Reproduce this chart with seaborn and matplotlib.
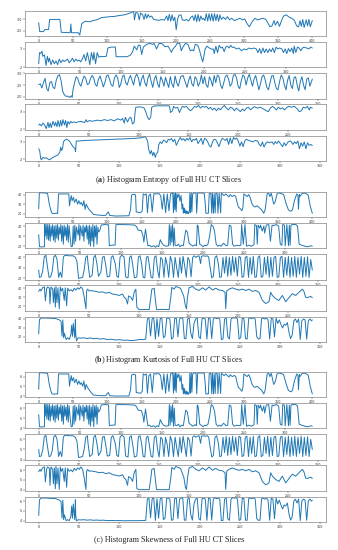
import matplotlib
matplotlib.use("Agg")
import matplotlib.pyplot as plt
import seaborn as sns

sns.set_style("ticks")
plt.rcParams['font.family'] = ['DejaVu Sans']
plt.rcParams['mathtext.fontset'] = 'custom'
plt.rcParams['mathtext.rm'] = 'Liberation Serif'
plt.rcParams['mathtext.bf'] = 'Liberation Serif:bold'

# ---------------- tick labels ----------------
xticks_p1 = [0, 50, 100, 150, 200, 250, 300, 350, 400]
xticks_p2 = [0, 50, 100, 150, 200, 250, 300]
xticks_p3 = [0, 50, 100, 150, 200, 250, 300, 350]
xticks_p4 = [0, 50, 100, 150, 200, 250]
xticks_p5 = [0, 50, 100, 150, 200, 250, 300, 350]
yticks_entropy = [[2.5, 3.0], [2, 3], [2.0, 2.5, 3.0], [2, 3], [2, 3]]
yticks_kurtosis = [20, 30, 40]
yticks_skewness = [4, 5, 6]

captions = [r"($\mathbf{a}$) Histogram Entropy of Full HU CT Slices",
            r"($\mathbf{b}$) Histogram Kurtosis of Full HU CT Slices",
            r"(c) Histogram Skewness of Full HU CT Slices"]

# ---------------- (a) entropy: (slice index, value) ----------------
a1 = [(0,2.86),(1.5,2.47),(7,2.47),(9,2.56),(14.5,2.56),(16,3.0),(31,3.0),(33,2.44),(46,2.42),(47,2.8),(48,2.42),(58,2.42),(60,2.32),(63,2.82),(68,2.92),(74,2.9),(80,2.95),(86,3.0),(92,3.08),(98,3.1),(104,3.12),(110,3.13),(116,3.16),(125,3.2),(133,3.27),(137,3.33),(139,3.32),(140,2.98),(142,3.3),(145,3.28),(147,2.98),(149,3.28),(152,3.2),(154,3.0),(156,3.25),(158,3.05),(160,3.22),(162,3.1),(165,3.15),(168,3.0),(172,2.98),(176,2.96),(180,3.0),(184,2.97),(187,3.15),(189,2.95),(191,3.22),(193,2.92),(195,3.2),(197,2.95),(199,3.1),(201,2.55),(203,3.0),(205,3.18),(208,3.2),(210,2.98),(213,2.95),(216,3.0),(219,2.93),(222,3.08),(225,3.15),(227,2.95),(229,3.2),(231,2.9),(233,3.22),(235,2.92),(237,3.15),(239,3.0),(241,3.05),(243,2.95),(245,3.25),(247,2.93),(249,3.25),(251,2.95),(253,3.25),(255,2.92),(257,3.25),(259,2.95),(261,3.22),(263,2.92),(265,3.2),(267,3.0),(270,3.1),(273,3.0),(276,3.12),(279,2.98),(282,3.05),(286,2.95),(290,3.0),(294,3.05),(298,2.98),(301,3.02),(305,2.8),(308,2.68),(312,2.9),(316,3.05),(320,2.98),(324,3.02),(328,3.05),(332,3.0),(335,2.85),(338,2.68),(341,2.72),(344,2.95),(346,2.75),(349,2.92),(352,2.7),(355,2.95),(358,3.15),(362,3.2),(366,3.1),(370,3.05),(374,2.95),(377,2.72),(380,2.68),(382,2.95),(384,2.7),(386,3.0),(388,2.65),(391,2.98),(393,2.72),(395,3.0),(397,2.68),(400,2.95)]

a2 = [(0,2.2),(1,2.8),(2.5,2.75),(4,2.88),(5,2.6),(7,2.68),(9,2.1),(10.5,2.6),(12,2.3),(13,2.5),(15,2.15),(17,2.4),(19,2.2),(21,2.35),(23,2.15),(25,2.45),(27,2.25),(29,2.4),(31,2.32),(33,2.38),(35,2.45),(37,2.25),(39,2.35),(41,2.5),(43,2.3),(45,2.45),(47,2.35),(49,2.4),(51,2.3),(53,2.45),(55,2.7),(57,2.35),(59,2.8),(61,2.4),(62,2.15),(64,2.8),(66,2.4),(67,2.82),(69,2.2),(71,2.8),(73,2.55),(75,2.6),(78,2.58),(82,2.6),(84,3.05),(88,3.1),(93,3.1),(94,2.58),(97,2.58),(107,2.58),(111,2.65),(114,2.85),(116,3.15),(119,2.95),(121,3.2),(123,3.2),(125,2.7),(127,3.1),(131,3.25),(135,3.3),(138,3.25),(140,3.3),(143,3.0),(146,3.3),(150,3.28),(153,3.12),(157,3.15),(159,3.0),(161,2.82),(163,3.0),(166,3.15),(168,3.3),(171,3.32),(173,2.9),(175,3.1),(178,3.3),(181,3.25),(184,2.9),(186,2.95),(188,2.9),(190,3.25),(193,3.2),(195,2.95),(197,2.6),(199,2.3),(200,2.5),(202,3.0),(204,3.15),(207,3.05),(210,2.98),(212,3.0),(213,2.75),(215,3.15),(217,2.8),(219,3.2),(221,3.05),(223,3.1),(225,2.85),(227,3.1),(229,3.15),(231,3.05),(233,3.2),(235,3.08),(237,3.1),(240,3.0),(243,3.05),(246,2.9),(249,3.0),(252,2.95),(255,3.05),(258,3.0),(261,3.05),(264,3.0),(266,2.8),(268,3.02),(270,2.75),(272,3.05),(274,2.8),(276,3.0),(278,2.8),(280,3.0),(282,2.85),(284,3.05),(286,2.8),(288,3.1),(290,3.0),(292,3.05),(295,3.0),(297,2.8),(299,3.0),(301,2.75),(303,3.02),(305,2.85),(307,3.05),(309,2.75),(310,3.15),(312,2.8),(314,3.1),(316,3.05),(318,2.9),(320,3.05),(322,3.1),(325,3.05),(328,3.0),(330,3.1),(332,3.05)]

a3 = [(0,2.52),(2,2.55),(4,2.38),(6,2.6),(8,2.78),(10,2.35),(12,2.25),(14,2.6),(16,2.65),(18,2.4),(20,2.35),(22,2.7),(24,2.88),(26,2.93),(28,2.7),(30,2.25),(32,2.1),(34,2.03),(37,2.03),(39,1.98),(41,2.05),(42,1.98),(43,2.3),(45,2.6),(47,2.85),(49,2.78),(51,2.55),(53,2.45),(55,2.7),(57,2.88),(59,2.78),(61,2.52),(63,2.55),(65,2.78),(67,2.9),(69,2.8),(71,2.52),(73,2.45),(75,2.75),(77,2.88),(79,2.65),(81,2.42),(83,2.6),(85,2.88),(87,2.92),(89,2.72),(91,2.5),(93,2.45),(95,2.8),(97,2.92),(99,2.8),(101,2.4),(103,2.55),(105,2.85),(107,2.92),(109,2.6),(111,2.5),(113,2.75),(115,2.9),(117,2.7),(119,2.5),(121,2.85),(123,2.95),(125,2.8),(127,2.45),(129,2.75),(131,2.92),(133,2.6),(135,2.45),(137,2.8),(139,2.95),(141,2.65),(143,2.4),(145,2.75),(147,2.9),(149,2.55),(151,2.4),(153,2.85),(155,2.7),(157,2.45),(159,2.82),(161,2.6),(163,2.4),(165,2.85),(167,2.55),(169,2.4),(171,2.88),(173,2.6),(175,2.45),(178,2.85),(181,2.9),(184,2.6),(186,2.4),(188,2.7),(190,2.88),(192,2.55),(194,2.45),(196,2.85),(198,2.75),(200,2.45),(202,2.6),(204,2.92),(206,2.55),(208,2.85),(210,2.5),(212,2.4),(214,2.85),(216,2.7),(218,2.45),(220,2.9),(222,2.6),(224,2.92),(226,2.85),(228,2.5),(230,2.35),(232,2.6),(234,2.85),(236,2.92),(238,2.75),(240,2.45),(242,2.55),(244,2.9),(246,2.95),(248,2.8),(250,2.45),(252,2.35),(254,2.7),(256,2.92),(258,2.85),(260,2.5),(262,2.8),(264,2.95),(266,2.7),(268,2.45),(270,2.75),(272,2.9),(274,2.6),(276,2.3),(278,2.55),(280,2.85),(282,2.92),(284,2.7),(286,2.4),(288,2.3),(290,2.6),(292,2.88),(294,2.9),(296,2.6),(298,2.35),(300,2.3),(302,2.65),(304,2.92),(306,2.8),(308,2.5),(310,2.3),(312,2.7),(314,2.9),(316,2.5),(318,2.35),(320,2.8),(322,2.85),(324,2.5),(326,2.25),(328,2.65),(330,2.85),(332,2.5),(334,2.3),(336,2.75),(338,2.8),(340,2.45),(343,2.75)]

a4 = [(0,2.24),(1,2.3),(2.7,2.2),(4.3,2.35),(6,2.25),(7.6,2.04),(9.3,2.4),(10.3,2.1),(11.6,2.35),(12.6,2.1),(14.3,2.45),(15.9,2.2),(16.9,2.4),(18.3,2.15),(19.3,2.5),(20.9,2.15),(21.9,2.5),(23.2,2.2),(24.2,2.55),(25.9,2.25),(26.9,2.5),(28.2,2.1),(29.2,2.45),(30.9,2.3),(31.9,2.45),(33.2,2.38),(35.2,2.42),(37.5,2.38),(39.2,2.42),(42.5,2.45),(45.8,2.38),(47.5,2.55),(48.5,2.42),(50.8,2.5),(53,2.46),(55.8,2.48),(59,2.52),(62,2.48),(65.7,2.55),(69,2.5),(72.4,2.55),(75.7,2.48),(79,2.6),(82.3,2.52),(84,2.62),(85.7,2.35),(86.7,2.68),(89,2.42),(90.6,2.62),(92.3,2.68),(94,2.3),(95.6,2.4),(96.6,3.0),(97.3,3.25),(100.6,3.27),(104,3.25),(105.6,3.2),(107.2,3.0),(108.9,2.7),(110.6,2.55),(112.2,2.7),(113.2,3.25),(115.5,3.32),(120.5,3.33),(128.8,3.33),(131,3.32),(132,2.95),(134,3.05),(135,3.3),(137,3.2),(139,3.25),(141,2.95),(142,3.1),(144,3.3),(146,3.25),(148,3.3),(150,3.15),(152,3.05),(154,3.15),(156,3.3),(158,3.25),(160,3.35),(162,3.2),(164,3.3),(166,3.25),(168,3.3),(170,3.15),(172,3.25),(174,3.1),(176,3.2),(178,3.05),(180,3.2),(182,3.1),(184,3.25),(186,3.35),(188,3.2),(190,3.1),(192,3.25),(194,3.2),(196,3.05),(198,3.2),(200,3.1),(202,3.0),(204,3.15),(206,3.05),(208,3.2),(210,3.25),(212,3.1),(214,3.2),(216,3.28),(219,3.2),(222,3.25),(225,3.15),(228,3.05),(230,3.0),(232,3.2),(234,3.3),(236,3.22),(238,3.1),(240,3.25),(242,3.15),(244,3.22),(246,3.1),(248,3.2),(250,3.3),(253,3.25),(256,3.3),(259,3.15),(261,3.0),(263,3.05),(265,3.25),(267,3.2),(269,3.3),(271,3.1),(272,3.25),(274,3.2)]

a5 = [(0,2.6),(1.2,2.5),(2.5,2.04),(3.3,1.96),(5.4,2.1),(7.5,2.05),(9.6,2.08),(11.7,2.0),(13.8,1.96),(15.8,2.05),(17.9,2.1),(20,2.15),(22,2.2),(24,2.25),(26.2,2.4),(27.5,2.7),(28.3,2.5),(29.6,2.6),(30.8,3.0),(32.5,3.1),(34.6,3.15),(36.7,3.1),(38.8,3.0),(40.8,2.85),(42.9,2.7),(45,2.62),(45.8,2.44),(46.7,3.04),(57.5,3.08),(78.3,3.12),(99,3.16),(120,3.2),(128,3.24),(132,3.3),(134,3.2),(135.5,3.0),(136.5,2.6),(138.5,2.3),(140,2.5),(141.7,2.2),(143,2.4),(145,2.1),(146,2.3),(148,2.4),(149,2.8),(151,3.0),(153,2.9),(155,3.1),(157,3.05),(159,2.95),(161,3.15),(163,3.1),(165,3.2),(167,3.0),(169,3.15),(171,2.8),(173,3.0),(176,3.25),(178,3.1),(180,3.18),(182,3.05),(184,3.2),(186,3.1),(188,3.25),(190,3.0),(192,3.15),(194,3.1),(196,3.2),(198,2.9),(200,3.05),(202,3.2),(204,2.85),(206,3.2),(208,3.15),(210,3.0),(212,2.78),(214,2.7),(216,3.0),(218,3.15),(220,3.12),(222,2.95),(224,2.72),(226,3.0),(228,3.2),(230,3.15),(232,3.08),(234,3.2),(236,2.85),(238,3.22),(240,2.9),(242,3.25),(244,3.15),(246,3.22),(248,3.05),(250,2.75),(252,3.0),(254,2.72),(256,3.05),(258,3.15),(260,3.1),(263,3.05),(266,3.0),(269,3.08),(272,3.05),(274,2.85),(276,2.75),(278,3.0),(280,2.7),(282,2.9),(284,3.0),(287,2.95),(290,3.0),(292,2.85),(294,3.02),(296,2.9),(298,3.05),(301,2.85),(303,2.72),(305,2.95),(307,2.78),(310,3.0),(313,3.05),(316,2.85),(318,3.0),(320,2.9),(322,3.05),(324,2.6),(326,2.95),(328,2.75),(330,3.0),(332,2.6),(334,2.95),(336,2.8),(338,2.85),(340,2.78)]

# ---------------- (b) kurtosis ----------------
b1 = [(0,25),(1,41.8),(8,41.8),(13,41.2),(15.5,30),(18,22.9),(19.5,20.5),(22,20),(26,20.5),(27.7,20.2),(29,40.7),(44,40.7),(45,28.2),(47.5,39),(48.9,33.6),(50.9,37),(52.4,31.8),(54.8,35.4),(56.8,30),(58.7,33.6),(60.7,30),(62.2,31.8),(64.5,28.2),(66,33.6),(67.9,24.6),(69.4,30),(71.8,26.4),(74.2,24),(76.7,21.8),(80,19.3),(86,18.6),(93,18.2),(98,18.2),(100,20.4),(101.8,21.8),(103.7,18.2),(112.4,17.5),(131.9,17.8),(134.3,24.6),(135.8,39.6),(139,40.4),(141.6,39.6),(142.6,21.8),(148.9,21),(151.3,22.9),(152.8,40.7),(155.2,39.6),(157.2,40.7),(159,21),(161,38.9),(163.5,40.7),(166,21.8),(168.4,41),(171,40.7),(175.8,41),(178.3,38.9),(180.7,24.6),(183,40.7),(185.5,21),(188,40.7),(190.4,22.9),(192.8,40.7),(195.2,41.8),(196,41.8),(197,21),(198,41.5),(199,24),(200,41.8),(201,22),(202,41),(203.4,37),(205,40.7),(206.5,33),(208.2,39),(209.5,25),(210.6,30),(211.5,20.4),(212.5,26),(213,21),(214,24),(215,20),(216,23),(217,19.8),(218,22.5),(219,20),(220.3,22),(221,41.5),(222,21),(223,41.8),(224,22),(225,40.5),(227.5,41.8),(230,41.5),(231,20.5),(232.4,41.8),(242,41.5),(243.5,30),(244.4,20.4),(248,20.4),(249.3,41),(251.7,41.5),(253,20.5),(254,41.5),(255.5,20.4),(256.5,41),(258,20.8),(259,41.5),(261,41),(262,20.5),(263.8,41.5),(266,20.8),(267,41.5),(268.6,40.5),(271,38.9),(273.4,40.7),(276,39),(278.2,37.5),(280,40),(283,38),(286,39.2),(288,38),(290.3,31),(292,27),(295,25),(297,23),(298.5,26.5),(300,40.7),(302,39.5),(304.8,38),(307,40),(309,37),(312,30),(314,28),(316,27),(319.3,28.2),(322,26.5),(326,24),(329,20.4),(331,24),(333,35),(334,40.7),(336.2,41.5),(338,38),(340,41.5),(343.5,30),(346,33),(348.3,40.5),(350.7,41.8),(355,41),(358,40),(362,30),(365,24),(367.6,22.9),(369,22.5),(371,24),(374,34),(377.3,40.7),(379,39),(379.7,24.6),(381,40),(382,38),(385,41.2),(389,41.5),(392,40.5),(394,39.5),(397,28),(400,20.4)]

b2 = [(0,31.5),(1,19.5),(4,19.3),(7,19.5),(7.2,42),(8,30),(9,42),(10,27),(11,41.5),(12,26),(13,42),(14,25),(15,40),(16,30),(17,41.5),(18,26),(19,40),(20,24),(21,41),(22,28),(23,41.5),(24,26),(25,39),(26,32),(27,41.5),(28,25),(29,40),(30,22),(31,41),(32,30),(33,39),(34,26),(35,41.5),(36,24),(37,40.5),(38,31),(39.5,19.5),(41,19.8),(42,40),(43,22),(44,41),(45,25),(46,39),(48,31),(49,41.5),(50,26),(51,40),(53,30),(54,41),(55,25),(56,39),(57,34),(58,41),(59,27),(60,40),(61,22),(62,41),(63,20),(64,39),(65,25),(66,41.5),(67,19.5),(68,40),(69,29),(70,41),(71,22),(72,39),(73,34),(75,37),(76,41),(80,41.5),(85,41.2),(86,20.4),(88,21),(93,21.2),(94,41.5),(100,41.5),(110,41.3),(117,41),(119,39.5),(121,36),(125,35.5),(127,30),(128,24),(130,37),(132,25),(133,20.4),(135,21),(137,19.5),(140,20.5),(142,19),(144,20.5),(146,19.5),(148,26.5),(150,23),(152,21),(155,20),(158,20.5),(159,41.5),(160,21),(161,40),(162,24),(163,41.5),(164,20),(165,38),(166,21),(168,20.5),(170,22),(172,19.5),(174,21),(176,20.5),(179,36),(181,34),(183,23),(186,21),(188,20),(190,21.5),(192,20.5),(193,41),(194,40),(196,22),(198,21),(200,19.5),(202,21),(204,20.5),(206,22),(208,30),(210,41.5),(212,40),(214,35),(216,22),(218,20),(220,21),(222,20),(225,23),(228,20.5),(230,21),(232,41),(234,40),(236,22),(238,20),(241,21),(244,20.5),(246,21),(247,41.5),(249,22),(251,41.5),(253,20),(256,21),(259,20),(262,21.5),(263,41.5),(265,40.5),(266,22),(267,41),(269,38),(270,41),(272,35),(274,40),(275,33),(277,41),(280,41.5),(282,25),(284,41),(286,40.5),(289,41.5),(292,40),(294,22),(296,21),(297,41.5),(299,41),(300,20.4),(302,41.5),(304,20.5),(305,41),(306,21),(307,40.5),(308,41.5),(313,41.5),(315,40),(317,22),(320,21),(324,20),(328,19.5),(331,20.5),(333,20)]

b3 = [(0,28),(1,21),(3,21.5),(5,27),(7,40.5),(9,42),(11,31),(13,21),(15,21.5),(17,27),(19,40.5),(21,42),(23,38),(25,21),(27,26),(29,21),(31,40.5),(33,42),(38,41.5),(43,41.5),(46,40),(48,36),(50,20),(55,21),(57,28),(59,40),(61,41.5),(62,33),(64,21),(67,23),(69,40),(71,42),(73,34),(75,22),(78,26),(80,40),(82,41),(84,33),(86,21.5),(89,22),(91,40),(93,41.5),(96,34),(98,22),(100,21),(102,40),(104,42),(107,40.5),(109,21.5),(112,20.5),(114,40),(116,41.5),(118,32),(120,20.5),(123,21.5),(125,40.5),(127,41.5),(129,34),(131,21),(133,20.5),(135,40),(137,41),(139,31),(141,21),(143,20.5),(145,40),(147,41.5),(149,28),(151,20.5),(153,40),(155,38),(157,21),(159,40),(161,33),(163,21),(165,41),(167,36),(169,21),(171,40),(173,30),(175,21),(177,40),(179,25),(181,41),(183,32),(185,21),(187,40),(189,37),(191,21.5),(193,40),(195,41.5),(197,40),(199,41),(201,41.5),(203,34),(204,41),(207,41.5),(209,41),(211,41.5),(213,40.5),(215,30),(217,20.5),(219,22),(221,40),(223,41.5),(225,35),(227,21),(229,21.5),(231,40),(233,25),(235,41),(237,22),(239,40),(241,23),(243,41),(245,26),(247,40),(249,22),(251,41),(253,40),(255,21),(257,22),(259,40),(261,41),(263,21),(265,40),(267,24),(269,41),(271,21),(273,21.5),(275,40),(277,41.5),(279,21),(281,22),(283,40),(285,24),(287,41),(289,21),(291,40),(293,22),(295,40),(297,41),(299,21),(301,21.5),(303,40),(305,41),(307,21),(309,40),(311,23),(313,41),(315,21),(317,40),(319,22),(321,41),(323,21),(325,40),(327,24),(329,41),(331,21),(333,40),(335,22),(337,40.5),(339,21),(341,38),(343,28)]

b4 = [(0,36.5),(1.3,39),(2.3,37),(4,40.7),(5.7,41.5),(6.7,26),(8,39.5),(9,41.5),(10.7,40),(11.3,22.5),(12.3,41.5),(14,39),(14.7,24),(15.7,40.5),(16.7,19),(17.3,42),(18.3,24),(19.3,40.5),(20.6,17.2),(21.6,41.5),(22.6,37),(24,40),(25.6,26.5),(26.6,40.5),(28,20.5),(29,40),(30.6,37),(32.3,38.5),(34,36.5),(35.6,40),(37.3,38),(39,40.5),(40.6,39),(42.3,41.5),(44,39),(45.6,30),(47.3,17.2),(48,37),(49,39),(50.6,37),(52.3,37.5),(54,37),(57.3,36.5),(60.6,35.5),(64,36),(67.3,34.5),(70.6,35.5),(74,33.5),(77.3,33),(80.6,32),(84,33.5),(85.6,30),(87.3,28.5),(89,22.5),(90,31.5),(92.3,30),(94,26.5),(95.6,35.5),(97.3,39),(98.3,19),(100.6,16.2),(104,16.2),(107.3,16.5),(110.6,16.2),(112.3,30),(113.3,39),(115.6,40),(118,16.2),(124,16.5),(130.6,16.2),(132.3,30),(133.3,41),(135.6,39),(137.3,42),(142,40),(145.3,31),(147,20),(148,17.1),(149,30),(150.6,40.5),(154,42),(157.3,39),(160.6,37.5),(164,40.5),(167.3,38),(170.6,41.5),(174,38),(177.3,40),(180.6,38),(184,37.5),(186.6,35.5),(187.3,17.2),(188.3,37),(190.6,39),(194,40.5),(197.3,39),(200.6,38),(204,39),(207.3,37.5),(210.6,39),(214,36.5),(217.3,37.5),(220.6,35.5),(224,26.5),(227.3,23),(230.6,25),(232.3,35.5),(234,32),(237.3,28.5),(240.6,26.5),(244,32),(247.3,25),(250.6,29.5),(254,34),(257.3,32),(260.6,35.5),(264,39),(265.6,36.5),(267.3,30),(269,29.5),(272.3,31),(274,29.5)]

b5 = [(0,23.3),(1,39.3),(3,41.1),(9,41.1),(21,40.5),(25,39.3),(27.8,37.5),(29,20.7),(30,39),(31,19),(32,24),(34,17),(36,19),(38,17),(40,22.5),(41,33),(42,20.5),(43,35),(44.8,19),(45.6,39.3),(46,24),(47,15.5),(49,18.9),(53,18.5),(56,19),(60,18),(64,18.8),(68,17.8),(72,18.4),(76,17.5),(80,18),(85,17),(90,17.3),(95,16.5),(100,16.8),(105,16.2),(110,16.3),(115,15.8),(120,16.2),(125,17),(130,16.8),(133,17.5),(135,40),(137,41),(139,21),(141,40.5),(143,41),(145,17.5),(147,40.5),(149,20.5),(151,40.5),(153,41),(155,19),(157,20.5),(159,40.5),(161,41),(163,40),(165,17.5),(167,19),(169,40.5),(171,41),(173,20),(175,40),(177,41),(179,41.5),(181,18),(183,18),(185,40),(187,41),(189,24),(191,18),(193,35),(195,40),(197,41),(199,20),(201,18),(203,40.5),(205,41),(207,40),(209,17.5),(211,41),(213,40.5),(215,18),(217,40),(219,41.5),(221,40.5),(223,41),(225,40),(227,17),(229,17.5),(231,40),(233,41),(235,20),(237,17.5),(239,40),(241,41.5),(243,41),(245,41.5),(247,40),(249,17.5),(251,19),(253,41),(255,40.5),(257,18),(259,17.5),(261,41),(263,41),(265,40.5),(267,41.5),(269,40),(271,20),(273,17.5),(275,18),(277,40.5),(279,41),(281,40),(283,41),(285,39),(287,17.5),(289,41),(291,40),(293,20),(295,41),(297,35),(299,39),(301,34),(303,30),(305,34),(307,33),(309,36),(311,25),(313,18),(315,22),(317,38),(319,40),(321,36),(323,40),(325,17),(327,38),(329,40),(331,39),(333,17.5),(335,38),(337,40),(339,38),(340,39)]

# ---------------- (c) skewness ----------------
c1 = [(0,4.7),(1,6.38),(8,6.38),(13,6.32),(15.5,5.2),(18,4.49),(19.5,4.25),(22,4.2),(26,4.25),(27.7,4.22),(29,6.27),(44,6.27),(45,5.02),(47.5,6.1),(48.9,5.56),(50.9,5.9),(52.4,5.38),(54.8,5.74),(56.8,5.2),(58.7,5.56),(60.7,5.2),(62.2,5.38),(64.5,5.02),(66,5.56),(67.9,4.66),(69.4,5.2),(71.8,4.84),(74.2,4.6),(76.7,4.38),(80,4.13),(86,4.08),(93,4.05),(98,4.05),(100,4.24),(101.8,4.38),(103.7,4.05),(112.4,4.02),(131.9,4.03),(134.3,4.66),(135.8,6.16),(139,6.24),(141.6,6.16),(142.6,4.38),(148.9,4.3),(151.3,4.49),(152.8,6.27),(155.2,6.16),(157.2,6.27),(159,4.3),(161,6.09),(163.5,6.27),(166,4.38),(168.4,6.3),(171,6.27),(175.8,6.3),(178.3,6.09),(180.7,4.66),(183,6.27),(185.5,4.3),(188,6.27),(190.4,4.49),(192.8,6.27),(195.2,6.38),(196,6.38),(197,4.3),(198,6.35),(199,4.6),(200,6.38),(201,4.4),(202,6.3),(203.4,5.9),(205,6.27),(206.5,5.5),(208.2,6.1),(209.5,4.7),(210.6,5.2),(211.5,4.24),(212.5,4.8),(213,4.3),(214,4.6),(215,4.2),(216,4.5),(217,4.18),(218,4.45),(219,4.2),(220.3,4.4),(221,6.35),(222,4.3),(223,6.38),(224,4.4),(225,6.25),(227.5,6.38),(230,6.35),(231,4.25),(232.4,6.38),(242,6.35),(243.5,5.2),(244.4,4.24),(248,4.24),(249.3,6.3),(251.7,6.35),(253,4.25),(254,6.35),(255.5,4.24),(256.5,6.3),(258,4.28),(259,6.35),(261,6.3),(262,4.25),(263.8,6.35),(266,4.28),(267,6.35),(268.6,6.25),(271,6.09),(273.4,6.27),(276,6.1),(278.2,5.95),(280,6.2),(283,6.0),(286,6.12),(288,6.0),(290.3,5.3),(292,4.9),(295,4.7),(297,4.5),(298.5,4.85),(300,6.27),(302,6.15),(304.8,6.0),(307,6.2),(309,5.9),(312,5.2),(314,5.0),(316,4.9),(319.3,5.02),(322,4.85),(326,4.6),(329,4.24),(331,4.6),(333,5.7),(334,6.27),(336.2,6.35),(338,6.0),(340,6.35),(343.5,5.2),(346,5.5),(348.3,6.25),(350.7,6.38),(355,6.3),(358,6.2),(362,5.2),(365,4.6),(367.6,4.49),(369,4.45),(371,4.6),(374,5.6),(377.3,6.27),(379,6.1),(379.7,4.66),(381,6.2),(382,6.0),(385,6.32),(389,6.35),(392,6.25),(394,6.15),(397,5.0),(400,4.24)]

c2 = [(0,5.35),(1,4.15),(4,4.13),(7,4.15),(7.2,6.4),(8,5.2),(9,6.4),(10,4.9),(11,6.35),(12,4.8),(13,6.4),(14,4.7),(15,6.2),(16,5.2),(17,6.35),(18,4.8),(19,6.2),(20,4.6),(21,6.3),(22,5.0),(23,6.35),(24,4.8),(25,6.1),(26,5.4),(27,6.35),(28,4.7),(29,6.2),(30,4.4),(31,6.3),(32,5.2),(33,6.1),(34,4.8),(35,6.35),(36,4.6),(37,6.25),(38,5.3),(39.5,4.15),(41,4.18),(42,6.2),(43,4.4),(44,6.3),(45,4.7),(46,6.1),(48,5.3),(49,6.35),(50,4.8),(51,6.2),(53,5.2),(54,6.3),(55,4.7),(56,6.1),(57,5.6),(58,6.3),(59,4.9),(60,6.2),(61,4.4),(62,6.3),(63,4.2),(64,6.1),(65,4.7),(66,6.35),(67,4.15),(68,6.2),(69,5.1),(70,6.3),(71,4.4),(72,6.1),(73,5.6),(75,5.9),(76,6.3),(80,6.35),(85,6.32),(86,4.24),(88,4.3),(93,4.32),(94,6.35),(100,6.35),(110,6.33),(117,6.3),(119,6.15),(121,5.8),(125,5.75),(127,5.2),(128,4.6),(130,5.9),(132,4.7),(133,4.24),(135,4.3),(137,4.15),(140,4.25),(142,4.1),(144,4.25),(146,4.15),(148,4.85),(150,4.5),(152,4.3),(155,4.2),(158,4.25),(159,6.35),(160,4.3),(161,6.2),(162,4.6),(163,6.35),(164,4.2),(165,6.0),(166,4.3),(168,4.25),(170,4.4),(172,4.15),(174,4.3),(176,4.25),(179,5.8),(181,5.6),(183,4.5),(186,4.3),(188,4.2),(190,4.35),(192,4.25),(193,6.3),(194,6.2),(196,4.4),(198,4.3),(200,4.15),(202,4.3),(204,4.25),(206,4.4),(208,5.2),(210,6.35),(212,6.2),(214,5.7),(216,4.4),(218,4.2),(220,4.3),(222,4.2),(225,4.5),(228,4.25),(230,4.3),(232,6.3),(234,6.2),(236,4.4),(238,4.2),(241,4.3),(244,4.25),(246,4.3),(247,6.35),(249,4.4),(251,6.35),(253,4.2),(256,4.3),(259,4.2),(262,4.35),(263,6.35),(265,6.25),(266,4.4),(267,6.3),(269,6.0),(270,6.3),(272,5.7),(274,6.2),(275,5.5),(277,6.3),(280,6.35),(282,4.7),(284,6.3),(286,6.25),(289,6.35),(292,6.2),(294,4.4),(296,4.3),(297,6.35),(299,6.3),(300,4.24),(302,6.35),(304,4.25),(305,6.3),(306,4.3),(307,6.25),(308,6.35),(313,6.35),(315,6.2),(317,4.4),(320,4.3),(324,4.2),(328,4.15),(331,4.25),(333,4.2)]

c3 = [(0,5.0),(1,4.3),(3,4.35),(5,4.9),(7,6.25),(9,6.4),(11,5.3),(13,4.3),(15,4.35),(17,4.9),(19,6.25),(21,6.4),(23,6.0),(25,4.3),(27,4.8),(29,4.3),(31,6.25),(33,6.4),(38,6.35),(43,6.35),(46,6.2),(48,5.8),(50,4.2),(55,4.3),(57,5.0),(59,6.2),(61,6.35),(62,5.5),(64,4.3),(67,4.5),(69,6.2),(71,6.4),(73,5.6),(75,4.4),(78,4.8),(80,6.2),(82,6.3),(84,5.5),(86,4.35),(89,4.4),(91,6.2),(93,6.35),(96,5.6),(98,4.4),(100,4.3),(102,6.2),(104,6.4),(107,6.25),(109,4.35),(112,4.25),(114,6.2),(116,6.35),(118,5.4),(120,4.25),(123,4.35),(125,6.25),(127,6.35),(129,5.6),(131,4.3),(133,4.25),(135,6.2),(137,6.3),(139,5.3),(141,4.3),(143,4.25),(145,6.2),(147,6.35),(149,5.0),(151,4.25),(153,6.2),(155,6.0),(157,4.3),(159,6.2),(161,5.5),(163,4.3),(165,6.3),(167,5.8),(169,4.3),(171,6.2),(173,5.2),(175,4.3),(177,6.2),(179,4.7),(181,6.3),(183,5.4),(185,4.3),(187,6.2),(189,5.9),(191,4.35),(193,6.2),(195,6.35),(197,6.2),(199,6.3),(201,6.35),(203,5.6),(204,6.3),(207,6.35),(209,6.3),(211,6.35),(213,6.25),(215,5.2),(217,4.25),(219,4.4),(221,6.2),(223,6.35),(225,5.7),(227,4.3),(229,4.35),(231,6.2),(233,4.7),(235,6.3),(237,4.4),(239,6.2),(241,4.5),(243,6.3),(245,4.8),(247,6.2),(249,4.4),(251,6.3),(253,6.2),(255,4.3),(257,4.4),(259,6.2),(261,6.3),(263,4.3),(265,6.2),(267,4.6),(269,6.3),(271,4.3),(273,4.35),(275,6.2),(277,6.35),(279,4.3),(281,4.4),(283,6.2),(285,4.6),(287,6.3),(289,4.3),(291,6.2),(293,4.4),(295,6.2),(297,6.3),(299,4.3),(301,4.35),(303,6.2),(305,6.3),(307,4.3),(309,6.2),(311,4.5),(313,6.3),(315,4.3),(317,6.2),(319,4.4),(321,6.3),(323,4.3),(325,6.2),(327,4.6),(329,6.3),(331,4.3),(333,6.2),(335,4.4),(337,6.25),(339,4.3),(341,6.0),(343,5.0)]

c4 = [(0,5.85),(1.3,6.1),(2.3,5.9),(4,6.27),(5.7,6.35),(6.7,4.8),(8,6.15),(9,6.35),(10.7,6.2),(11.3,4.45),(12.3,6.35),(14,6.1),(14.7,4.6),(15.7,6.25),(16.7,4.1),(17.3,6.4),(18.3,4.6),(19.3,6.25),(20.6,4.02),(21.6,6.35),(22.6,5.9),(24,6.2),(25.6,4.85),(26.6,6.25),(28,4.25),(29,6.2),(30.6,5.9),(32.3,6.05),(34,5.85),(35.6,6.2),(37.3,6.0),(39,6.25),(40.6,6.1),(42.3,6.35),(44,6.1),(45.6,5.2),(47.3,4.02),(48,5.9),(49,6.1),(50.6,5.9),(52.3,5.95),(54,5.9),(57.3,5.85),(60.6,5.75),(64,5.8),(67.3,5.65),(70.6,5.75),(74,5.55),(77.3,5.5),(80.6,5.4),(84,5.55),(85.6,5.2),(87.3,5.05),(89,4.45),(90,5.35),(92.3,5.2),(94,4.85),(95.6,5.75),(97.3,6.1),(98.3,4.1),(100.6,4.0),(104,4.0),(107.3,4.0),(110.6,4.0),(112.3,5.2),(113.3,6.1),(115.6,6.2),(118,4.0),(124,4.0),(130.6,4.0),(132.3,5.2),(133.3,6.3),(135.6,6.1),(137.3,6.4),(142,6.2),(145.3,5.3),(147,4.2),(148,4.02),(149,5.2),(150.6,6.25),(154,6.4),(157.3,6.1),(160.6,5.95),(164,6.25),(167.3,6.0),(170.6,6.35),(174,6.0),(177.3,6.2),(180.6,6.0),(184,5.95),(186.6,5.75),(187.3,4.02),(188.3,5.9),(190.6,6.1),(194,6.25),(197.3,6.1),(200.6,6.0),(204,6.1),(207.3,5.95),(210.6,6.1),(214,5.85),(217.3,5.95),(220.6,5.75),(224,4.85),(227.3,4.5),(230.6,4.7),(232.3,5.75),(234,5.4),(237.3,5.05),(240.6,4.85),(244,5.4),(247.3,4.7),(250.6,5.15),(254,5.6),(257.3,5.4),(260.6,5.75),(264,6.1),(265.6,5.85),(267.3,5.2),(269,5.15),(272.3,5.3),(274,5.15)]

c5 = [(0,4.53),(1,6.13),(3,6.31),(9,6.31),(21,6.25),(25,6.13),(27.8,5.95),(29,4.27),(30,6.1),(31,4.1),(32,4.6),(34,4.0),(36,4.1),(38,4.0),(40,4.45),(41,5.5),(42,4.25),(43,5.7),(44.8,4.1),(45.6,6.13),(46,4.6),(47,3.98),(49,4.09),(53,4.07),(56,4.1),(60,4.05),(64,4.08),(68,4.04),(72,4.06),(76,4.03),(80,4.05),(85,4.0),(90,4.02),(95,4.0),(100,4.01),(105,3.99),(110,3.99),(115,3.98),(120,3.99),(125,4.0),(130,4.01),(133,4.03),(135,6.2),(137,6.3),(139,4.3),(141,6.25),(143,6.3),(145,4.03),(147,6.25),(149,4.25),(151,6.25),(153,6.3),(155,4.1),(157,4.25),(159,6.25),(161,6.3),(163,6.2),(165,4.03),(167,4.1),(169,6.25),(171,6.3),(173,4.2),(175,6.2),(177,6.3),(179,6.35),(181,4.05),(183,4.05),(185,6.2),(187,6.3),(189,4.6),(191,4.05),(193,5.7),(195,6.2),(197,6.3),(199,4.2),(201,4.05),(203,6.25),(205,6.3),(207,6.2),(209,4.03),(211,6.3),(213,6.25),(215,4.05),(217,6.2),(219,6.35),(221,6.25),(223,6.3),(225,6.2),(227,4.0),(229,4.03),(231,6.2),(233,6.3),(235,4.2),(237,4.03),(239,6.2),(241,6.35),(243,6.3),(245,6.35),(247,6.2),(249,4.03),(251,4.1),(253,6.3),(255,6.25),(257,4.05),(259,4.03),(261,6.3),(263,6.3),(265,6.25),(267,6.35),(269,6.2),(271,4.2),(273,4.03),(275,4.05),(277,6.25),(279,6.3),(281,6.2),(283,6.3),(285,6.1),(287,4.03),(289,6.3),(291,6.2),(293,4.2),(295,6.3),(297,5.7),(299,6.1),(301,5.6),(303,5.2),(305,5.6),(307,5.5),(309,5.8),(311,4.7),(313,4.05),(315,4.4),(317,6.0),(319,6.2),(321,5.8),(323,6.2),(325,4.0),(327,6.0),(329,6.2),(331,6.1),(333,4.03),(335,6.0),(337,6.2),(339,6.0),(340,6.1)]

entropy = [a1, a2, a3, a4, a5]
kurtosis = [b1, b2, b3, b4, b5]
skewness = [c1, c2, c3, c4, c5]
xticks_all = [xticks_p1, xticks_p2, xticks_p3, xticks_p4, xticks_p5]

# ---------------- layout ----------------
W, H = 338, 550
fig = plt.figure(figsize=(W / 100, H / 100), dpi=100)
LEFT, WIDTH = 25, 301
PH, STEP = 25.5, 31.2
group_tops = [10.7, 191.7, 371.7]
caption_y = [179.5, 359.5, 539.5]
LINE = '#1f77b4'


def draw_panel(top, pts, xt, yt):
    ax = fig.add_axes([LEFT / W, 1 - (top + PH) / H, WIDTH / W, PH / H])
    xs = [p[0] for p in pts]
    ys = [p[1] for p in pts]
    sns.lineplot(x=xs, y=ys, ax=ax, color=LINE, linewidth=0.7,
                 sort=False, estimator=None)
    ax.set_xticks(xt)
    ax.set_yticks(yt)
    ax.tick_params(labelsize=2.4, length=1.3, width=0.35, pad=0.9,
                   colors='#444444', labelcolor='#333333')
    for s in ax.spines.values():
        s.set_linewidth(0.45)
        s.set_color('#777777')
    return ax


groups = [(entropy, yticks_entropy), (kurtosis, [yticks_kurtosis] * 5),
          (skewness, [yticks_skewness] * 5)]
for g, (series, yts) in enumerate(groups):
    for i in range(5):
        draw_panel(group_tops[g] + STEP * i, series[i], xticks_all[i], yts[i])
    fig.text(0.5, 1 - caption_y[g] / H, captions[g], ha='center', va='center',
             fontsize=5.9, family='Liberation Serif', color='#222222')

fig.savefig("out.png", dpi=100, facecolor='white')
